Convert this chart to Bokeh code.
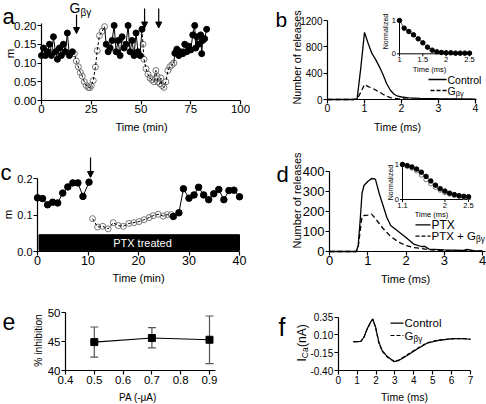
from math import pi
from bokeh.plotting import figure
from bokeh.layouts import column, row
from bokeh.models import (Range1d, FixedTicker, NumeralTickFormatter, Label, Arrow,
                          NormalHead, Whisker, TeeHead, ColumnDataSource)
from bokeh.embed import file_html
from bokeh.resources import INLINE

FONT = "Liberation Sans"

# ---------------- data ----------------
# panel a : m vs time (min)
a_c1_t = [0, 1, 2, 3, 4, 5, 6, 7, 8, 9, 10, 11, 12, 13, 14, 15.5]
a_c1_m = [0.12, 0.14, 0.12, 0.13, 0.15, 0.12, 0.17, 0.13, 0.11, 0.14, 0.12, 0.15, 0.13, 0.18, 0.12, 0.13]
a_o1_t = [16.5, 17.5, 18.5, 19.5, 20.5, 21.5, 22.5, 23.5, 24.3, 25.0, 26.0, 27.1, 28.0, 29.1, 30.5, 31.7]
a_o1_m = [0.125, 0.105, 0.09, 0.075, 0.065, 0.05, 0.04, 0.035, 0.034, 0.04, 0.053, 0.089, 0.133, 0.173, 0.185, 0.197]
a_c2_t = [32.5, 33.5, 34.5, 35.5, 36.5, 37.5, 38.5, 39.5, 40.5, 41.5, 42.5, 43.5, 44.5, 45.5, 46.5, 47.5, 48.5, 49.5, 50.5]
a_c2_m = [0.15, 0.13, 0.14, 0.16, 0.20, 0.13, 0.16, 0.12, 0.17, 0.14, 0.15, 0.20, 0.13, 0.16, 0.12, 0.18, 0.13, 0.12, 0.19]
a_o2_t = [51.0, 51.5, 52.5, 53.5, 54.5, 55.5, 56.5, 57.5, 58.0, 58.5, 59.5, 60.0, 60.5, 61.5, 62.5, 63.5, 64.5, 65.5, 66.5]
a_o2_m = [0.15, 0.11, 0.085, 0.07, 0.06, 0.055, 0.05, 0.08, 0.065, 0.05, 0.045, 0.06, 0.04, 0.035, 0.05, 0.08, 0.09, 0.095, 0.10]
a_c3_t = [67.0, 68.0, 69.0, 70.0, 71.0, 72.0, 73.0, 74.0, 75.0, 76.0, 77.0, 77.5, 78.0, 79.0, 80.0, 80.5, 81.0, 82.0, 83.0]
a_c3_m = [0.126, 0.137, 0.12, 0.13, 0.125, 0.15, 0.13, 0.145, 0.135, 0.175, 0.2, 0.14, 0.17, 0.15, 0.175, 0.125, 0.16, 0.165, 0.19]
a_arrows_t = [17.6, 51.8, 58.9]

# panel b : number of releases vs time (ms)
b_t = [0, 0.7, 0.8, 0.9, 1.0, 1.1, 1.2, 1.3, 1.4, 1.5, 1.6, 1.7, 1.8, 1.9, 2.0, 2.2, 2.5, 3.0, 3.5, 4.0]
b_ctrl = [0, 0, 10, 480, 1020, 850, 700, 610, 500, 380, 240, 140, 80, 50, 38, 25, 18, 12, 8, 4]
b_gbg = [0, 0, 5, 110, 230, 195, 175, 145, 115, 80, 50, 30, 18, 12, 8, 6, 4, 3, 2, 1]
bi_t = [1.0, 1.1, 1.2, 1.3, 1.4, 1.5, 1.6, 1.7, 1.8, 1.9, 2.0, 2.1, 2.2, 2.3, 2.4, 2.5]
bi_v = [1.0, 0.77, 0.67, 0.57, 0.45, 0.33, 0.2, 0.11, 0.06, 0.04, 0.03, 0.03, 0.02, 0.02, 0.02, 0.02]

# panel c : m vs time (min), PTX treated
c_c1_t = [0, 1, 2, 3, 4, 5, 6, 7, 8, 9, 10.2]
c_c1_m = [0.147, 0.145, 0.128, 0.135, 0.133, 0.16, 0.177, 0.188, 0.188, 0.151, 0.19]
c_o_t = [10.9, 11.9, 12.9, 14.0, 15.0, 16.0, 17.0, 18.1, 19.1, 20.1, 21.1, 22.1, 22.9, 23.9, 24.9, 25.7, 26.5]
c_o_m = [0.09, 0.067, 0.069, 0.062, 0.079, 0.071, 0.069, 0.077, 0.079, 0.082, 0.087, 0.093, 0.098, 0.102, 0.097, 0.101, 0.101]
c_c2_t = [26.9, 28.0, 28.9, 30.0, 31.0, 31.9, 32.9, 33.9, 34.9, 35.9, 36.9, 37.9, 38.9, 40.0]
c_c2_m = [0.096, 0.106, 0.172, 0.146, 0.155, 0.176, 0.155, 0.142, 0.158, 0.17, 0.142, 0.167, 0.168, 0.15]
c_bar_x = [0.3, 40.0]
c_bar_y = [0.003, 0.046]
c_arrow_t = 10.5

# panel d : number of releases vs time (ms)
d_t = [0, 0.7, 0.75, 0.8, 0.85, 0.9, 1.0, 1.1, 1.2, 1.3, 1.4, 1.5, 1.6, 1.8, 2.0, 2.2, 2.4, 2.5, 2.6, 3.0, 3.5, 3.6, 3.8, 4.0]
d_ptx = [0, 0, 30, 150, 290, 330, 350, 365, 362, 290, 230, 170, 130, 100, 70, 37, 25, 25, 12, 8, 5, 10, 3, 3]
d_ptxg = [0, 0, 20, 100, 175, 180, 182, 187, 165, 140, 115, 95, 75, 48, 30, 20, 15, 12, 8, 5, 3, 4, 2, 2]
di_t = [1.1, 1.2, 1.3, 1.4, 1.5, 1.6, 1.7, 1.8, 1.9, 2.0, 2.1, 2.2, 2.3, 2.4, 2.5]
di_f = [1.0, 0.97, 0.93, 0.87, 0.78, 0.66, 0.53, 0.41, 0.31, 0.24, 0.18, 0.14, 0.11, 0.09, 0.08]
di_o = [1.0, 0.95, 0.9, 0.82, 0.7, 0.57, 0.45, 0.35, 0.27, 0.2, 0.16, 0.12, 0.09, 0.07, 0.06]

# panel e : % inhibition vs PA
e_pa = [0.5, 0.7, 0.9]
e_inh = [44.9, 45.6, 45.3]
e_lo = [42.3, 43.9, 41.2]
e_hi = [47.5, 47.4, 49.4]

# panel f : ICa vs time (ms)
f_t = [0.8, 1.0, 1.2, 1.36, 1.53, 1.71, 1.83, 1.98, 2.15, 2.33, 2.6, 2.95, 3.2, 3.65, 4.18, 4.7, 5.24, 5.94, 6.47, 7.0]
f_ctrl = [0.005, 0.006, 0.01, 0.068, 0.186, 0.28, 0.327, 0.21, 0.0, -0.12, -0.204, -0.274, -0.26, -0.19, -0.096, -0.016, 0.021, 0.045, 0.05, 0.04]
f_gbg = [0.005, 0.006, 0.01, 0.065, 0.18, 0.275, 0.32, 0.2, -0.01, -0.13, -0.21, -0.27, -0.255, -0.18, -0.09, -0.01, 0.025, 0.045, 0.05, 0.04]


# ---------------- helpers ----------------
def _rng(a, pa, b, pb, p0, p1):
    s = (b - a) / (pb - pa)
    return a + (p0 - pa) * s, a + (p1 - pa) * s


class Panel:
    """Figure whose frame fills its canvas; xm/ym map data values to page pixels."""

    def __init__(self, box, xm, ym):
        self.box, self.xm, self.ym = box, xm, ym
        x0, y0, x1, y1 = box
        xr = _rng(*xm, x0, x1)
        yr = _rng(*ym, y1, y0)
        p = figure(width=x1 - x0, height=y1 - y0, x_range=Range1d(*xr), y_range=Range1d(*yr),
                   output_backend="svg", toolbar_location=None, min_border=0,
                   min_border_left=0, min_border_right=0, min_border_top=0, min_border_bottom=0)
        p.outline_line_color = None
        p.xgrid.visible = False
        p.ygrid.visible = False
        p.background_fill_color = "white"
        p.border_fill_color = "white"
        self.p = p

    def dx(self, px):
        a, pa, b, pb = self.xm
        return a + (px - pa) * (b - a) / (pb - pa)

    def dy(self, py):
        a, pa, b, pb = self.ym
        return a + (py - pa) * (b - a) / (pb - pa)

    def label(self, px, py, text, size, align="center", baseline="middle", angle=0, color="black"):
        self.p.add_layout(Label(x=self.dx(px), y=self.dy(py), text=text, text_font=FONT,
                                text_font_size=f"{size}px", text_align=align,
                                text_baseline=baseline, angle=angle, text_color=color))

    def gbg(self, px, py, size, prefix="G", wfac=0.778, subsize=None, drop=None):
        self.label(px, py, prefix, size, align="left")
        ss = subsize or 0.72 * size
        dd = drop if drop is not None else 0.32 * size
        self.label(px + wfac * size, py + dd, "\u03b2\u03b3", ss, align="left")

    def seg(self, px0, py0, px1, py1, width=1.0, color="black", dash="solid"):
        self.p.segment(x0=[self.dx(px0)], y0=[self.dy(py0)], x1=[self.dx(px1)], y1=[self.dy(py1)],
                       line_color=color, line_width=width, line_dash=dash)

    def arrow(self, x, py0, py1):
        self.p.add_layout(Arrow(x_start=x, y_start=self.dy(py0), x_end=x, y_end=self.dy(py1),
                                line_width=1.2, line_color="black",
                                end=NormalHead(size=6, fill_color="black", line_color="black", line_width=1)))

    def inset(self, name, xm, ym):
        x0, y0, x1, y1 = self.box
        self.p.extra_x_ranges = {name: Range1d(*_rng(*xm, x0, x1))}
        self.p.extra_y_ranges = {name: Range1d(*_rng(*ym, y1, y0))}
        self.ixm, self.iym = xm, ym

    def ipx(self, v):
        a, pa, b, pb = self.ixm
        return pa + (v - a) / (b - a) * (pb - pa)

    def ipy(self, v):
        a, pa, b, pb = self.iym
        return pa + (v - a) / (b - a) * (pb - pa)

    def axes(self, xticks, yticks, xbounds, ybounds, xfmt=None, yfmt=None, xsize=11, ysize=11,
             xstand=0, ystand=1):
        xa, ya = self.p.xaxis[0], self.p.yaxis[0]
        xa.fixed_location = ybounds[0]
        ya.fixed_location = xbounds[0]
        xa.bounds = tuple(xbounds)
        ya.bounds = tuple(ybounds)
        for ax, ticks, fmt, size, st in ((xa, xticks, xfmt, xsize, xstand),
                                         (ya, yticks, yfmt, ysize, ystand)):
            ax.ticker = FixedTicker(ticks=ticks)
            if fmt:
                ax.formatter = NumeralTickFormatter(format=fmt)
            ax.major_label_text_font = FONT
            ax.major_label_text_font_size = f"{size}px"
            ax.major_label_text_color = "black"
            ax.major_tick_out = 4
            ax.major_tick_in = 0
            ax.minor_tick_out = 0
            ax.minor_tick_in = 0
            ax.axis_line_width = 1.2
            ax.major_tick_line_width = 1.2
            ax.axis_line_color = "black"
            ax.major_tick_line_color = "black"
            ax.major_label_standoff = st


def filled(p, x, y, size=6, **kw):
    p.line(x, y, line_color="black", line_width=1, **kw)
    p.scatter(x, y, size=size, fill_color="black", line_color="black", **kw)


def opened(p, x, y, size=6, lead=None, **kw):
    p.scatter(x, y, size=size, fill_color=None, line_color="#777777", line_width=1, **kw)
    lx = ([lead[0]] if lead else []) + list(x)
    ly = ([lead[1]] if lead else []) + list(y)
    p.line(lx, ly, line_color="black", line_width=1, line_dash="3 2", **kw)


# ---------------- panel a ----------------
A = Panel((0, 0, 250, 135), (0, 41, 100, 240), (0, 100, 0.2, 25))
A.axes([0, 25, 50, 75, 100], [0, 0.05, 0.10, 0.15, 0.20], (0, 100), (0, 0.205),
       yfmt="0.00", xsize=11.5, ysize=11.5)
opened(A.p, a_o1_t, a_o1_m, lead=(a_c1_t[-1], a_c1_m[-1]))
opened(A.p, a_o2_t, a_o2_m, lead=(a_c2_t[-1], a_c2_m[-1]))
A.p.line([a_o1_t[-1], a_c2_t[0]], [a_o1_m[-1], a_c2_m[0]], line_color="black", line_width=1)
A.p.line([a_o2_t[-1], a_c3_t[0]], [a_o2_m[-1], a_c3_m[0]], line_color="black", line_width=1)
filled(A.p, a_c1_t, a_c1_m)
filled(A.p, a_c2_t, a_c2_m)
filled(A.p, a_c3_t, a_c3_m)
A.arrow(a_arrows_t[0], 14, 33)
A.arrow(a_arrows_t[1], 8, 27.5)
A.arrow(a_arrows_t[2], 8, 27.5)
A.gbg(69, 7, 14, subsize=10, drop=5)
A.label(2, 15.5, "a", 22, align="left", baseline="alphabetic")
A.label(9.5, 53, "m", 11.5, angle=pi / 2)
A.label(141, 126.5, "Time (min)", 11)

# ---------------- panel b ----------------
B = Panel((250, 0, 486, 135), (0, 327, 4, 475), (0, 99, 1200, 20))
B.axes([0, 1, 2, 3, 4], [0, 400, 800, 1200], (0, 4.02), (0, 1200), xsize=10.5, ysize=10)
B.p.line(b_t, b_ctrl, line_color="black", line_width=1.3)
B.p.line(b_t, b_gbg, line_color="black", line_width=1.3, line_dash="5 3")
B.inset("ib", (1.0, 399, 2.5, 469), (0, 53.3, 1, 20))
B.seg(399, 53.3, 399, 18.3)
B.seg(399, 53.3, 471, 53.3)
for v in [1.0, 1.5, 2.0, 2.5]:
    B.seg(B.ipx(v), 53.3, B.ipx(v), 55.8)
    B.label(B.ipx(v), 59, f"{v:g}", 7.5)
for v in [0, 1]:
    B.seg(399, B.ipy(v), 396.5, B.ipy(v))
    B.label(395.5, B.ipy(v), f"{v}", 7.5, align="right")
B.p.line(bi_t, bi_v, line_color="#555555", line_width=1, x_range_name="ib", y_range_name="ib")
B.p.scatter(bi_t, bi_v, size=4.5, fill_color="black", line_color="black",
            x_range_name="ib", y_range_name="ib")
B.label(429, 69, "Time (ms)", 7.5)
B.label(385, 31, "Normalized", 7, angle=pi / 2)
B.seg(428, 79, 446, 79, width=1.3)
B.label(447, 79, "Control", 10.5, align="left")
B.seg(430, 90, 446, 90, width=1.3, dash="4 2")
B.gbg(447, 90, 10.5)
B.label(275, 18.5, "b", 21, align="left", baseline="alphabetic")
B.label(296, 57, "Number of releases", 10.8, angle=pi / 2)
B.label(397, 126, "Time (ms)", 10.5)

# ---------------- panel c ----------------
C = Panel((0, 135, 250, 285), (0, 37, 40, 239), (0, 251, 0.2, 178))
C.axes([0, 10, 20, 30, 40], [0, 0.1, 0.2], (0, 40), (0, 0.2), yfmt="0.0", xsize=12.5, ysize=11)
C.p.quad(left=[c_bar_x[0]], right=[c_bar_x[1]], bottom=[c_bar_y[0]], top=[c_bar_y[1]],
         fill_color="black", line_color="black")
C.label(142, 242.5, "PTX treated", 11, color="white")
opened(C.p, c_o_t, c_o_m, size=6)
filled(C.p, c_c1_t, c_c1_m, size=6.5)
filled(C.p, c_c2_t, c_c2_m, size=6.5)
C.arrow(c_arrow_t, 157, 177)
C.label(0, 172, "c", 22, align="left", baseline="alphabetic")
C.label(7.5, 214, "m", 11.5, angle=pi / 2)
C.label(138, 277, "Time (min)", 11)

# ---------------- panel d ----------------
D = Panel((250, 135, 486, 285), (0, 329, 4, 482), (0, 251, 400, 171))
D.axes([0, 1, 2, 3, 4], [0, 100, 200, 300, 400], (0, 4.07), (0, 400), xsize=13, ysize=13)
D.p.line(d_t, d_ptx, line_color="black", line_width=1.3)
D.p.line(d_t, d_ptxg, line_color="black", line_width=1.3, line_dash="5 3")
D.inset("id", (1.1, 402, 2.5, 468), (0, 199, 1, 164))
D.seg(402, 199, 402, 162)
D.seg(402, 199, 470, 199)
for v in [1.1, 2.0, 2.5]:
    D.seg(D.ipx(v), 199, D.ipx(v), 201.5)
    D.label(D.ipx(v), 205, f"{v:g}", 7.5)
for v in [0, 1]:
    D.seg(402, D.ipy(v), 399.5, D.ipy(v))
    D.label(398.5, D.ipy(v), f"{v}", 7.5, align="right")
D.p.line(di_t, di_f, line_color="#555555", line_width=1, x_range_name="id", y_range_name="id")
D.p.scatter(di_t, di_o, size=4.5, fill_color=None, line_color="#777777",
            x_range_name="id", y_range_name="id")
D.p.scatter(di_t, di_f, size=4.5, fill_color="black", line_color="black",
            x_range_name="id", y_range_name="id")
D.label(431, 213.5, "Time (ms)", 7.5)
D.label(389.5, 182, "Normalized", 7, angle=pi / 2)
D.seg(415, 224.3, 430, 224.3, width=1.3)
D.label(431, 224.3, "PTX", 12, align="left")
D.seg(415, 235.7, 430, 235.7, width=1.3, dash="4 2")
D.gbg(431, 235.7, 11.5, prefix="PTX + G", wfac=3.863)
D.label(276, 174, "d", 22, align="left", baseline="alphabetic")
D.label(296, 200, "Number of releases", 11, angle=pi / 2)
D.label(405, 278.5, "Time (ms)", 11)

# ---------------- panel e ----------------
E = Panel((0, 285, 250, 404), (0.4, 65, 0.9, 209), (40, 370, 50, 312))
E.axes([0.4, 0.5, 0.6, 0.7, 0.8, 0.9], [40, 45, 50], (0.4, 0.92), (40, 50),
       xfmt="0.0", xsize=11.5, ysize=11.5, xstand=1)
esrc = ColumnDataSource(dict(x=e_pa, y=e_inh, lo=e_lo, hi=e_hi))
E.p.add_layout(Whisker(source=esrc, base="x", lower="lo", upper="hi", line_color="#555555",
                       line_width=1.2,
                       lower_head=TeeHead(size=8, line_color="#555555", line_width=1.2),
                       upper_head=TeeHead(size=8, line_color="#555555", line_width=1.2)))
E.p.line("x", "y", source=esrc, line_color="black", line_width=1.2)
E.p.scatter("x", "y", source=esrc, marker="square", size=7, fill_color="black", line_color="black")
E.label(2, 321, "e", 23, align="left", baseline="alphabetic")
E.label(37.5, 340, "% inhibition", 10.3, angle=pi / 2)
E.label(137.5, 396.5, "PA (-\u03bcA)", 10)

# ---------------- panel f ----------------
F = Panel((250, 285, 486, 404), (0, 337.7, 7, 470), (-0.40, 370, 0.35, 316.7))
F.axes([0, 1, 2, 3, 4, 5, 6, 7], [-0.40, -0.15, 0.10, 0.35], (0, 7), (-0.40, 0.35),
       yfmt="0.00", xsize=10, ysize=10, xstand=1)
F.p.line(f_t, f_gbg, line_color="black", line_width=1.2, line_dash="4 2")
F.p.line(f_t, f_ctrl, line_color="black", line_width=1.2)
F.seg(390, 322.7, 403, 322.7, width=1.2)
F.label(404, 322.7, "Control", 11.5, align="left")
F.seg(390, 335, 403, 335, width=1.2, dash="4 2")
F.gbg(404, 335, 11.5)
F.label(278, 326.7, "f", 25, align="left", baseline="alphabetic")
F.label(301, 361, "I", 12, align="left", angle=pi / 2)
F.label(304.5, 357.7, "Ca", 8.5, align="left", angle=pi / 2)
F.label(301, 346.5, " (nA)", 12, align="left", angle=pi / 2)
F.label(404, 396.5, "Time (ms)", 10.5)

layout = column(row(A.p, B.p), row(C.p, D.p), row(E.p, F.p))
open("out.html", "w").write(file_html(layout, INLINE))
